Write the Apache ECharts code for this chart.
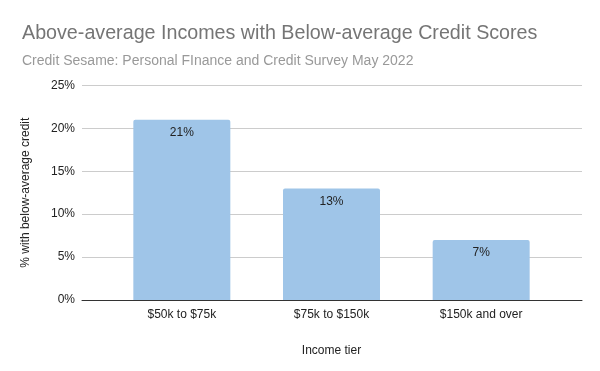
<!DOCTYPE html>
<html><head><meta charset="utf-8">
<script src="https://cdn.jsdelivr.net/npm/echarts@6/dist/echarts.min.js"></script>
<style>html,body{margin:0;padding:0;background:#fff}#c{width:600px;height:371px}</style>
</head><body><div id="c"></div>
<script>
const categories = ['$50k to $75k', '$75k to $150k', '$150k and over'];
const values = [21, 13, 7];
const yTicks = [0, 5, 10, 15, 20, 25];

const chart = echarts.init(document.getElementById('c'));
const font = 'Arial, "Liberation Sans", sans-serif';
chart.setOption({
  animation: false,
  textStyle: { fontFamily: font },
  title: [{
    text: 'Above-average Incomes with Below-average Credit Scores',
    subtext: 'Credit Sesame: Personal FInance and Credit Survey May 2022',
    left: 17, top: 19,
    textStyle: { fontFamily: font, fontSize: 19.7, fontWeight: 'normal', color: '#757575' },
    subtextStyle: { fontFamily: font, fontSize: 14, color: '#999999' },
    itemGap: 10
  }],
  grid: [
    { left: 82, right: 18, top: 85.4, bottom: 71, containLabel: false },
    { left: 107, right: 44, top: 85.4, bottom: 71, containLabel: false }
  ],
  xAxis: [
    { gridIndex: 0, type: 'category', data: [''], axisLine: { show: true, lineStyle: { color: '#333', width: 1 } },
      axisTick: { show: false }, axisLabel: { show: false } },
    { gridIndex: 1, type: 'category', data: categories,
      axisLine: { show: false }, axisTick: { show: false },
      axisLabel: { color: '#222', fontSize: 12, margin: 9, fontFamily: font },
      name: 'Income tier', nameLocation: 'middle', nameGap: 45,
      nameTextStyle: { color: '#222', fontSize: 12, fontFamily: font } }
  ],
  yAxis: [
    { gridIndex: 0, type: 'value', min: 0, max: 25, interval: 5,
      axisLabel: { formatter: v => yTicks.includes(v) ? v + '%' : '', color: '#222', fontSize: 12, margin: 7, fontFamily: font },
      splitLine: { lineStyle: { color: '#cccccc' } },
      axisLine: { show: false }, axisTick: { show: false },
      name: '% with below-average credit', nameLocation: 'middle', nameGap: 50, nameRotate: 90,
      nameTextStyle: { color: '#222', fontSize: 12, fontFamily: font } },
    { gridIndex: 1, type: 'value', min: 0, max: 25, interval: 5, show: false, splitLine: { show: false } }
  ],
  series: [{
    type: 'bar', xAxisIndex: 1, yAxisIndex: 1,
    data: values, barWidth: 97,
    itemStyle: { color: '#9fc5e8', borderRadius: [2, 2, 0, 0] },
    label: { show: true, position: 'insideTop', distance: 7, formatter: p => p.value + '%',
      color: '#222', fontSize: 12, fontFamily: font }
  }]
});
</script></body></html>
